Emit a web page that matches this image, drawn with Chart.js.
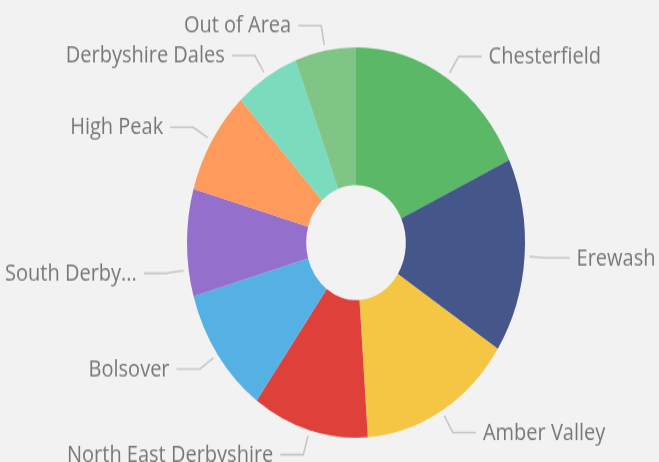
<!DOCTYPE html>
<html>
<head>
<meta charset="utf-8">
<script src="https://cdn.jsdelivr.net/npm/chart.js@4.4.1/dist/chart.umd.min.js"></script>
<style>
  html, body { margin: 0; padding: 0; background: #f2f2f2; overflow: hidden; }
  #wrap { position: absolute; left: 0; top: 0; width: 659px; height: 400px;
          transform: scaleY(1.155); transform-origin: 0 0; }
</style>
</head>
<body>
<div id="wrap"><canvas id="chart" width="659" height="400"></canvas></div>
<script>
// Share of records by district
const districts = ['Chesterfield', 'Erewash', 'Amber Valley', 'North East Derbyshire',
                   'Bolsover', 'South Derbyshire', 'High Peak', 'Derbyshire Dales', 'Out of Area'];
const shares = [65, 58, 53, 40, 38, 32, 31, 22, 21];
const sliceColors = ['#5ab866', '#45578a', '#f5c544', '#e0403a', '#55b0e3',
                     '#946fcb', '#fe9b5c', '#7adbbe', '#7fc686'];

// Outside labels with elbow leader lines, truncated with "..." when they run out of room
const outsideLabels = {
  id: 'outsideLabels',
  afterDatasetsDraw(chart, args, opts) {
    const ctx = chart.ctx;
    const meta = chart.getDatasetMeta(0);
    const W = chart.width;
    ctx.save();
    ctx.font = opts.font;
    ctx.textBaseline = 'middle';
    meta.data.forEach((arc, i) => {
      const p = arc.getProps(['x', 'y', 'startAngle', 'endAngle', 'outerRadius'], true);
      const name = chart.data.labels[i];
      const shift = (opts.angleShift[name] || 0) * Math.PI / 180;
      const a = (p.startAngle + p.endAngle) / 2 + shift;
      const cos = Math.cos(a), sin = Math.sin(a);
      const ax = p.x + (p.outerRadius + opts.gap) * cos;
      const ay = p.y + (p.outerRadius + opts.gap) * sin;
      const ex = p.x + (p.outerRadius + opts.elbow) * cos;
      const ey = p.y + (p.outerRadius + opts.elbow) * sin;
      const right = cos >= 0;
      const hx = ex + (right ? opts.run : -opts.run);
      ctx.strokeStyle = opts.lineColor;
      ctx.lineWidth = opts.lineWidth;
      ctx.lineJoin = 'round';
      ctx.beginPath();
      ctx.moveTo(ax, ay);
      ctx.lineTo(ex, ey);
      ctx.lineTo(hx, ey);
      ctx.stroke();
      const tx = hx + (right ? opts.pad : -opts.pad);
      const room = right ? (W - opts.margin - tx) : (tx - opts.margin);
      let text = name;
      if (ctx.measureText(text).width > room) {
        while (text.length > 1 && ctx.measureText(text + '...').width > room) text = text.slice(0, -1);
        text = text.trimEnd() + '...';
      }
      ctx.fillStyle = opts.color;
      ctx.textAlign = right ? 'left' : 'right';
      ctx.fillText(text, tx, ey + 0.5);
    });
    ctx.restore();
  }
};

new Chart(document.getElementById('chart'), {
  type: 'doughnut',
  data: {
    labels: districts,
    datasets: [{
      data: shares,
      backgroundColor: sliceColors,
      borderWidth: 0,
      hoverOffset: 0,
      hoverBorderWidth: 0
    }]
  },
  options: {
    responsive: false,
    animation: false,
    cutout: '29.5%',
    layout: { padding: { left: 187, right: 134, top: 41, bottom: 21 } },
    plugins: {
      legend: { display: false },
      tooltip: { enabled: false },
      outsideLabels: {
        font: '20px "Open Sans"',
        color: '#777777',
        lineColor: '#c6c6c6',
        lineWidth: 1.6,
        gap: 5,
        elbow: 22,
        run: 23,
        pad: 7,
        margin: 2,
        angleShift: { 'South Derbyshire': -8 }
      }
    }
  },
  plugins: [outsideLabels]
});
</script>
</body>
</html>
